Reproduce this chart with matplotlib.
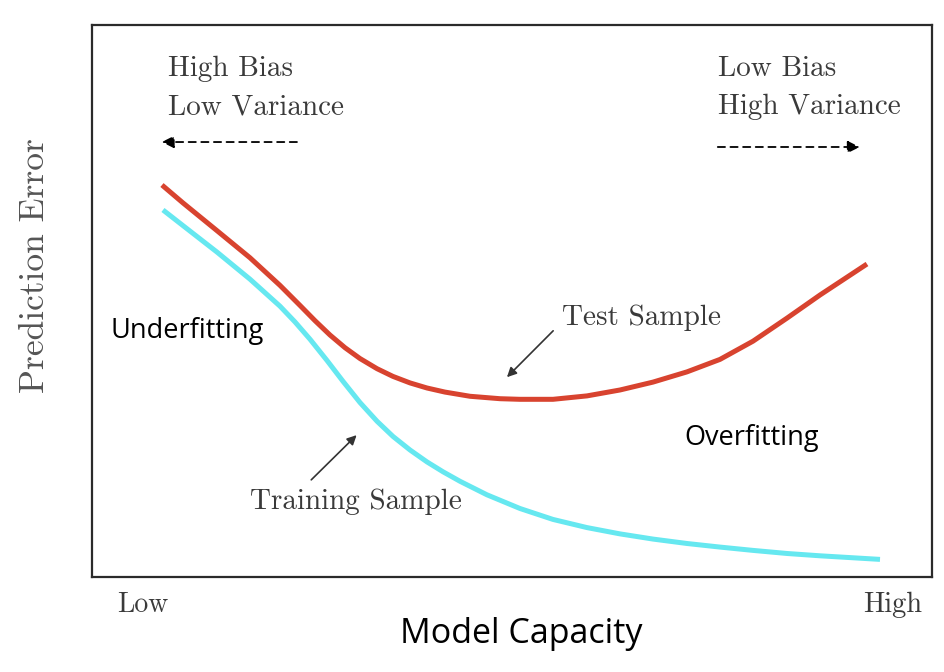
import numpy as np
import matplotlib
matplotlib.use("Agg")
import matplotlib.pyplot as plt

# curve samples (x: capacity 0-100, y: error 0-100)
test_x = [8.33, 10.83, 14.88, 18.81, 22.38, 24.76, 26.55, 28.33, 30.12, 31.90, 33.93, 35.83,
          37.86, 39.88, 42.02, 45.00, 48.57, 50.95, 54.88, 58.93, 62.86, 66.79, 70.83, 74.76,
          78.69, 82.74, 86.67, 92.26]
test_y = [71.01, 67.77, 62.74, 57.83, 52.83, 49.20, 46.43, 43.84, 41.54, 39.58, 37.74, 36.34,
          35.16, 34.24, 33.50, 32.74, 32.30, 32.19, 32.19, 32.81, 33.88, 35.31, 37.16, 39.42,
          42.72, 46.90, 51.09, 56.70]
train_x = [8.45, 10.83, 14.88, 18.81, 22.38, 24.17, 25.95, 27.98, 29.88, 31.90, 33.93, 35.83,
           37.86, 39.88, 41.79, 43.81, 47.02, 50.95, 54.88, 58.93, 62.86, 66.79, 70.83, 74.76,
           78.69, 82.74, 86.67, 93.81]
train_y = [66.49, 63.66, 58.86, 53.95, 49.06, 46.20, 43.08, 39.22, 35.45, 31.61, 28.22, 25.47,
           23.01, 20.85, 19.06, 17.34, 14.89, 12.41, 10.43, 8.95, 7.81, 6.87, 6.07, 5.42,
           4.82, 4.26, 3.84, 3.19]

serif = "cmr10"
sans = "Open Sans"
txt_col = "#3a3a3a"

fig = plt.figure(figsize=(9.44, 6.72), dpi=100)
ax = fig.add_axes([92 / 944, 1 - 577 / 672, 840 / 944, 552 / 672])
ax.set_xlim(0, 100)
ax.set_ylim(0, 100)
ax.set_xticks([])
ax.set_yticks([])
for s in ax.spines.values():
    s.set_color("#2b2b2b")
    s.set_linewidth(1.6)

ax.plot(test_x, test_y, color="#d8432f", lw=3.6, solid_capstyle="butt", solid_joinstyle="round")
ax.plot(train_x, train_y, color="#66e8f0", lw=3.6, solid_capstyle="butt", solid_joinstyle="round")

# bias / variance labels
ax.text(9.0, 92.0, "High Bias", fontfamily=serif, fontsize=21, color=txt_col, va="center")
ax.text(9.0, 85.1, "Low Variance", fontfamily=serif, fontsize=21, color=txt_col, va="center")
ax.text(74.5, 92.0, "Low Bias", fontfamily=serif, fontsize=21, color=txt_col, va="center")
ax.text(74.5, 85.1, "High Variance", fontfamily=serif, fontsize=21, color=txt_col, va="center")

dash_arrow = dict(arrowstyle="-|>", color="black", lw=1.3, ls=(0, (4, 3)),
                  mutation_scale=18, shrinkA=0, shrinkB=0)
ax.annotate("", xy=(8.3, 78.8), xytext=(24.4, 78.8), arrowprops=dash_arrow)
ax.annotate("", xy=(91.4, 77.9), xytext=(74.5, 77.9), arrowprops=dash_arrow)

# curve labels with pointers
pointer = dict(arrowstyle="-|>", color="#333333", lw=1.2, mutation_scale=14,
               shrinkA=0, shrinkB=0)
ax.text(65.4, 46.9, "Test Sample", fontfamily=serif, fontsize=21, color=txt_col,
        ha="center", va="center")
ax.annotate("", xy=(49.4, 36.2), xytext=(54.9, 44.6), arrowprops=pointer)
ax.annotate("", xy=(31.5, 25.7), xytext=(26.1, 17.6), arrowprops=pointer)
ax.text(31.4, 13.6, "Training Sample", fontfamily=serif, fontsize=21, color=txt_col,
        ha="center", va="center")

ax.text(11.3, 44.6, "Underfitting", fontfamily=sans, fontsize=19.5, color="black",
        ha="center", va="center")
ax.text(78.5, 25.2, "Overfitting", fontfamily=sans, fontsize=19.5, color="black",
        ha="center", va="center")

fig.text(143 / 944, 1 - 605 / 672, "Low", fontfamily=serif, fontsize=20, color=txt_col,
         ha="center", va="center")
fig.text(893 / 944, 1 - 605 / 672, "High", fontfamily=serif, fontsize=20.5, color=txt_col,
         ha="center", va="center")
fig.text(521 / 944, 1 - 634 / 672, "Model Capacity", fontfamily=sans, fontsize=24.5,
         color="black", ha="center", va="center")
fig.text(35 / 944, 1 - 266 / 672, "Prediction Error", fontfamily=serif, fontsize=25.5,
         color="#555555", ha="center", va="center", rotation=90)

fig.savefig("out.png", dpi=100, facecolor="white")
